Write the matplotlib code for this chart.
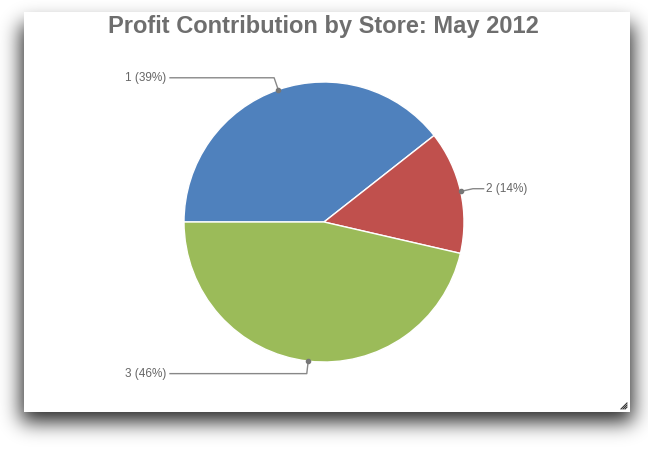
import numpy as np
import matplotlib.pyplot as plt
from matplotlib.patches import Rectangle

# data
stores = ["1", "2", "3"]
share = [39.4, 14.2, 46.4]
colors = ["#4F81BD", "#C0504D", "#9BBB59"]
title = "Profit Contribution by Store: May 2012"

W, H = 648, 449
plt.rcParams["font.family"] = ["Liberation Sans", "DejaVu Sans"]

fig = plt.figure(figsize=(W / 100, H / 100), dpi=100)

# background with drop shadow around the white panel
bg = fig.add_axes([0, 0, 1, 1])
bg.set_xlim(0, W)
bg.set_ylim(H, 0)
bg.axis("off")

px0, py0, px1, py1 = 24, 12, 630, 412
mask = np.zeros((H, W))
mask[py0 + 12:py1 + 10, px0 - 3:px1 + 3] = 1.0


def blur(a, sigma):
    r = int(sigma * 3)
    k = np.exp(-0.5 * (np.arange(-r, r + 1) / sigma) ** 2)
    k /= k.sum()
    a = np.apply_along_axis(lambda v: np.convolve(v, k, mode="same"), 0, a)
    a = np.apply_along_axis(lambda v: np.convolve(v, k, mode="same"), 1, a)
    return a


shadow = blur(mask, 10) * 0.85
rgba = np.zeros((H, W, 4))
rgba[..., 3] = shadow
bg.imshow(rgba, extent=(0, W, H, 0), interpolation="bilinear", zorder=1)
bg.add_patch(Rectangle((px0, py0), px1 - px0, py1 - py0, facecolor="white",
                       edgecolor="none", zorder=2))
# resize grip
for i in range(4):
    bg.plot([px1 - 3 - 2 * i, px1 - 3], [py1 - 3, py1 - 3 - 2 * i],
            color="#333333", lw=0.8, zorder=3)

bg.text(323.5, 27, title, ha="center", va="center", fontsize=17,
        fontweight="bold", color="#6E6E6E", zorder=3)

# pie
cx, cy, R = 324, 222, 140
ax = fig.add_axes([(cx - R) / W, (H - cy - R) / H, 2 * R / W, 2 * R / H])
wedges, _ = ax.pie(share, colors=colors, startangle=180, counterclock=False,
                   wedgeprops=dict(edgecolor="white", linewidth=1))
ax.set_xlim(-1, 1)
ax.set_ylim(-1, 1)
ax.axis("off")

for w, name, v in zip(wedges, stores, share):
    mid = np.deg2rad((w.theta1 + w.theta2) / 2)
    ex, ey = np.cos(mid), np.sin(mid)
    kx, ky = 1.09 * ex, 1.09 * ey
    if ex < 0:
        tx = -1.1
        ha = "right"
    else:
        tx = 1.14
        ha = "left"
    ax.plot([ex, kx, tx], [ey, ky, ky], color="#888888", lw=1,
            clip_on=False)
    ax.plot([ex], [ey], "o", color="#777777", ms=3, clip_on=False)
    ax.text(tx + (0.02 if ha == "left" else -0.025), ky, f"{name} ({v:.0f}%)",
            ha=ha, va="center", fontsize=8.5, color="#666666")

fig.savefig("out.png", dpi=100)
